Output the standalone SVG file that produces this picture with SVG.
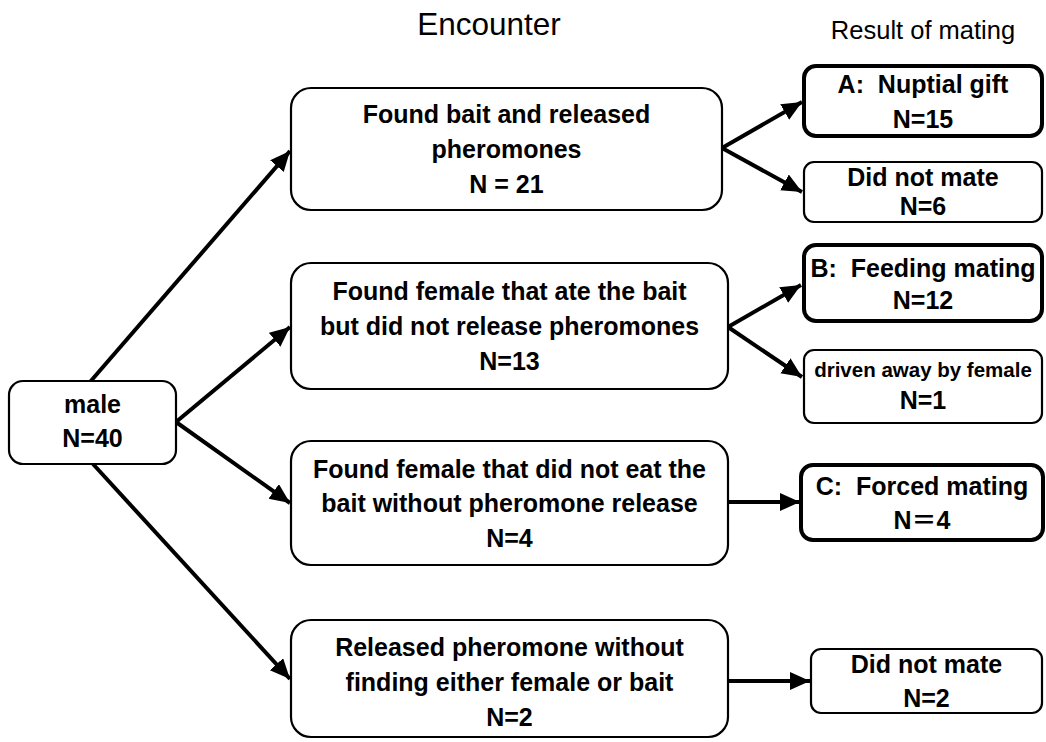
<svg xmlns="http://www.w3.org/2000/svg" width="1046" height="742" viewBox="0 0 1046 742">
<style>
  .t { font-family: "Liberation Sans", "Noto Sans CJK JP", sans-serif; font-weight: bold; font-size: 25px; fill: #000; text-anchor: middle; white-space: pre; }
  .s { font-size: 20.5px; }
  .h { font-family: "Liberation Sans", sans-serif; font-weight: normal; fill: #000; text-anchor: middle; }
  .box { fill: #fff; stroke: #000; stroke-width: 2.2; }
  .bold { fill: #fff; stroke: #000; stroke-width: 4; }
  .c { stroke: #000; stroke-width: 4; fill: none; marker-end: url(#ah); }
</style>
<defs>
  <marker id="ah" markerUnits="userSpaceOnUse" markerWidth="22" markerHeight="20" refX="20" refY="9" orient="auto">
    <path d="M0,0 L20,9 L0,18 Z" fill="#000"/>
  </marker>
</defs>
<rect width="1046" height="742" fill="#fff"/>
<text class="h" x="489" y="35" font-size="31.5">Encounter</text>
<text class="h" x="923" y="39" font-size="25.5">Result of mating</text>
<g id="connectors">
  <line class="c" x1="90" y1="382" x2="290" y2="151"/>
  <line class="c" x1="176" y1="422" x2="290" y2="327"/>
  <line class="c" x1="176" y1="422" x2="290" y2="503"/>
  <line class="c" x1="93" y1="464" x2="290" y2="679"/>
  <line class="c" x1="722" y1="148" x2="802" y2="102"/>
  <line class="c" x1="722" y1="148" x2="802" y2="192"/>
  <line class="c" x1="728" y1="327" x2="801" y2="285"/>
  <line class="c" x1="728" y1="327" x2="802" y2="377"/>
  <line class="c" x1="728" y1="502" x2="800" y2="502"/>
  <line class="c" x1="728" y1="681" x2="810" y2="681"/>
</g>
<g id="male">
  <rect class="box" x="9" y="381" width="167" height="83" rx="14"/>
  <text class="t" x="92.5" y="413">male</text>
  <text class="t" x="92.5" y="447">N=40</text>
</g>
<g id="enc1">
  <rect class="box" x="291" y="88" width="431" height="122" rx="20"/>
  <text class="t" x="506.5" y="123">Found bait and released</text>
  <text class="t" x="506.5" y="158">pheromones</text>
  <text class="t" x="506.5" y="193">N = 21</text>
</g>
<g id="enc2">
  <rect class="box" x="291" y="263" width="437" height="126" rx="20"/>
  <text class="t" x="509.5" y="300">Found female that ate the bait</text>
  <text class="t" x="509.5" y="335">but did not release pheromones</text>
  <text class="t" x="509.5" y="370">N=13</text>
</g>
<g id="enc3">
  <rect class="box" x="291" y="441" width="437" height="124" rx="20"/>
  <text class="t" x="509.5" y="478">Found female that did not eat the</text>
  <text class="t" x="509.5" y="512">bait without pheromone release</text>
  <text class="t" x="509.5" y="547">N=4</text>
</g>
<g id="enc4">
  <rect class="box" x="291" y="620" width="437" height="117" rx="20"/>
  <text class="t" x="509.5" y="656">Released pheromone without</text>
  <text class="t" x="509.5" y="691">finding either female or bait</text>
  <text class="t" x="509.5" y="726">N=2</text>
</g>
<g id="resA">
  <rect class="bold" x="804" y="66" width="238" height="70" rx="12"/>
  <text class="t" x="923" y="93">A:  Nuptial gift</text>
  <text class="t" x="923" y="128">N=15</text>
</g>
<g id="res1b">
  <rect class="box" x="804" y="162" width="238" height="60" rx="10"/>
  <text class="t" x="923" y="186">Did not mate</text>
  <text class="t" x="923" y="215">N=6</text>
</g>
<g id="resB">
  <rect class="bold" x="804" y="245" width="238" height="76" rx="12"/>
  <text class="t" x="923" y="277">B:  Feeding mating</text>
  <text class="t" x="923" y="309">N=12</text>
</g>
<g id="res2b">
  <rect class="box" x="804" y="350" width="238" height="73" rx="10"/>
  <text class="t s" x="923" y="377">driven away by female</text>
  <text class="t" x="923" y="409">N=1</text>
</g>
<g id="resC">
  <rect class="bold" x="801" y="465" width="242" height="75" rx="12"/>
  <text class="t" x="922" y="495">C:  Forced mating</text>
  <text class="t" x="922" y="529">N＝4</text>
</g>
<g id="res4">
  <rect class="box" x="811" y="649" width="231" height="64" rx="10"/>
  <text class="t" x="926.5" y="673">Did not mate</text>
  <text class="t" x="926.5" y="707">N=2</text>
</g>
</svg>
